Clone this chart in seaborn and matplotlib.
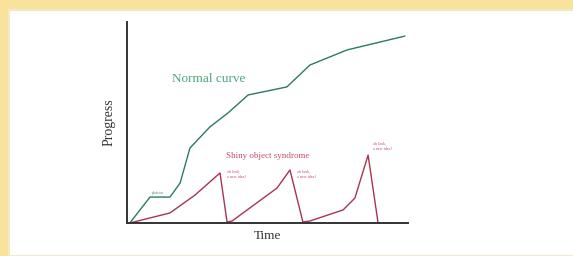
import matplotlib
matplotlib.use("Agg")
import matplotlib.pyplot as plt
from matplotlib.patches import Rectangle
import seaborn as sns
import pandas as pd

# progress vs time (both on a 0-100 scale)
normal_time = [1, 8.2, 15.3, 18.9, 22.4, 29.5, 35.9, 43.1, 56.9, 65.1, 78.3, 98.9]
normal_prog = [0, 12.9, 12.9, 19.9, 37.3, 47.8, 54.7, 63.7, 67.7, 78.6, 86.1, 93.0]

shiny_time = [1, 15.3, 24.2, 33.1, 35.6, 37.4, 53.4, 58.0, 62.6, 65.1, 76.9, 81.1, 85.8, 89.3]
shiny_prog = [0, 5.0, 13.9, 24.9, 0.5, 1.0, 17.4, 26.4, 0.5, 1.0, 6.5, 12.4, 33.8, 0.5]

peak_note = "oh look,\na new idea!"
note_pos = [(35.5, 26.5), (60.5, 26.5), (87.5, 40.5)]

sns.set_style("white")
plt.rcParams['font.family'] = ['Liberation Serif', 'DejaVu Serif']

fig = plt.figure(figsize=(5.73, 2.56), dpi=100)
fig.patch.set_facecolor("#f9e39c")
fig.patches.append(Rectangle((9 / 573, 0), 1, 1 - 10 / 256, transform=fig.transFigure,
                             facecolor="white", edgecolor="#f3e9c8", lw=1.5, zorder=-5))

ax = fig.add_axes([127 / 573, 1 - 223 / 256, 281 / 573, 201 / 256])
ax.set_facecolor("none")
ax.set_zorder(2)

df_n = pd.DataFrame({"t": normal_time, "p": normal_prog})
df_s = pd.DataFrame({"t": shiny_time, "p": shiny_prog})
sns.lineplot(data=df_n, x="t", y="p", ax=ax, color="#2f7a58", lw=1.0, sort=False)
sns.lineplot(data=df_s, x="t", y="p", ax=ax, color="#a8344e", lw=1.0, sort=False)

ax.set_xlim(0, 100)
ax.set_ylim(0, 100)
ax.set_xticks([])
ax.set_yticks([])
sns.despine(ax=ax)
for s in ["left", "bottom"]:
    ax.spines[s].set_color("#333333")
    ax.spines[s].set_linewidth(1.4)

ax.set_xlabel("Time", fontsize=9.5, color="#333333", labelpad=5)
ax.set_ylabel("Progress", fontsize=10, color="#333333", labelpad=8)

ax.text(16, 71.5, "Normal curve", fontsize=9.5, color="#4fa57c", va="center")
ax.text(35.2, 33.3, "Shiny object syndrome", fontsize=6.5, color="#c4506a", va="center")
ax.text(9, 14, "plateau", fontsize=3, color="#5a8a70", va="bottom")
for x, y in note_pos:
    ax.text(x, y, peak_note, fontsize=3, color="#c4506a", va="top", linespacing=1.3)

fig.savefig("out.png", dpi=100, facecolor=fig.get_facecolor())
